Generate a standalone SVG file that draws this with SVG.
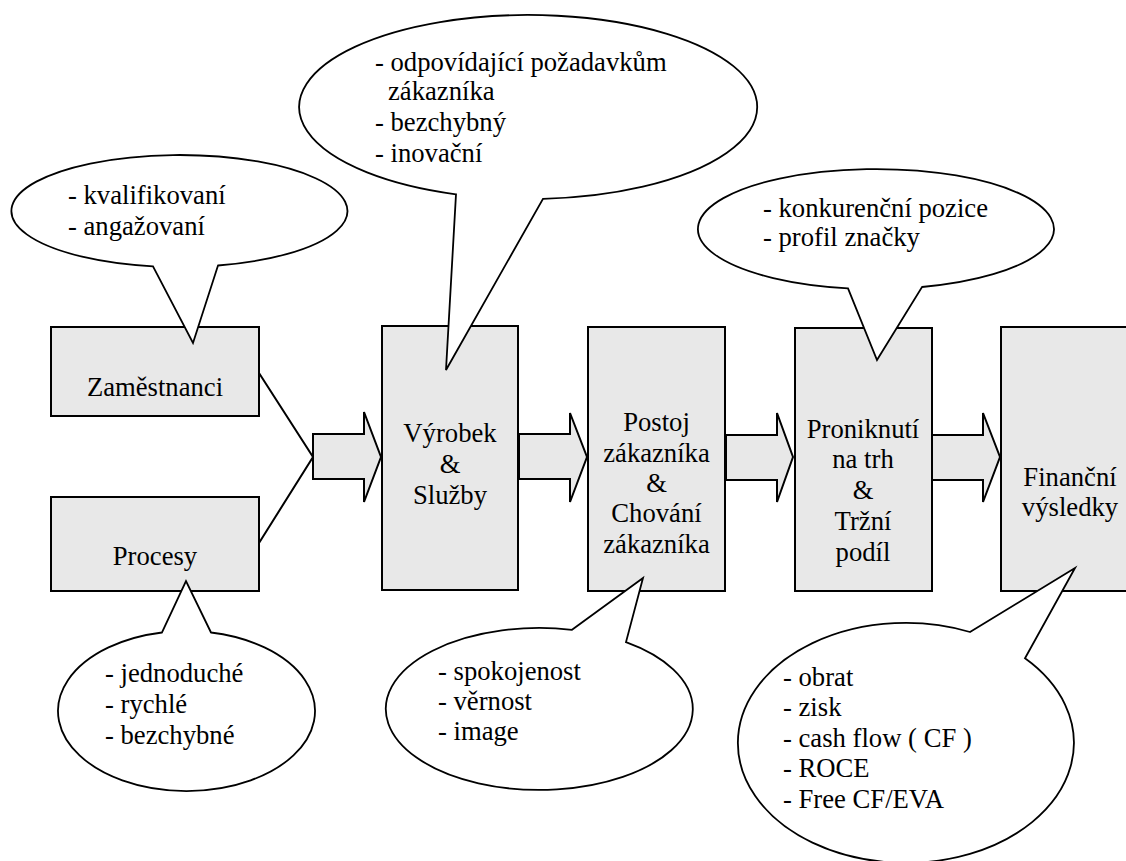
<svg xmlns="http://www.w3.org/2000/svg" width="1126" height="861" viewBox="0 0 1126 861">
<style>
.box{fill:#e8e8e8;stroke:#000;stroke-width:2}
.arr{fill:#e8e8e8;stroke:#000;stroke-width:2;stroke-linejoin:miter}
.ln{fill:none;stroke:#000;stroke-width:2}
.bub{fill:#fff;stroke:#000;stroke-width:1.8;stroke-linejoin:miter}
.t{font-family:'Liberation Serif','Tinos','Times New Roman','DejaVu Serif',serif;font-size:26.67px;fill:#000}
.c{text-anchor:middle}
</style>
<rect width="1126" height="861" fill="#fff"/>
<g id="connectors">
<polyline class="ln" points="259,373 313,457 259,543"/>
<polygon class="arr" points="313,434 364,434 364,412 381,457 364,502 364,479 313,479"/>
<polygon class="arr" points="519,434 570,434 570,413 587,457 570,502 570,479 519,479"/>
<polygon class="arr" points="726,435 777,435 777,413 793,457 777,502 777,480 726,480"/>
<polygon class="arr" points="932,435 983,435 983,413 1000,457 983,502 983,480 932,480"/>
</g>
<g class="t" font-family="Liberation Serif, Times New Roman, serif">
<g id="zamestnanci">
<rect class="box" x="51" y="327" width="208" height="89"/>
<text class="c" x="155" y="396">Zaměstnanci</text>
</g>
<g id="procesy">
<rect class="box" x="51" y="497" width="208" height="94"/>
<text class="c" x="155" y="565">Procesy</text>
</g>
<g id="vyrobek">
<rect class="box" x="382" y="326" width="136" height="264"/>
<text class="c" x="450" y="442">Výrobek</text>
<text class="c" x="450" y="473">&amp;</text>
<text class="c" x="450" y="504">Služby</text>
</g>
<g id="postoj">
<rect class="box" x="588" y="327" width="137" height="264"/>
<text class="c" x="656.5" y="431">Postoj</text>
<text class="c" x="656.5" y="462">zákazníka</text>
<text class="c" x="656.5" y="492">&amp;</text>
<text class="c" x="656.5" y="522">Chování</text>
<text class="c" x="656.5" y="553">zákazníka</text>
</g>
<g id="proniknuti">
<rect class="box" x="795" y="328" width="137" height="263"/>
<text class="c" x="863" y="438">Proniknutí</text>
<text class="c" x="863" y="468">na trh</text>
<text class="c" x="863" y="499">&amp;</text>
<text class="c" x="863" y="530">Tržní</text>
<text class="c" x="863" y="561">podíl</text>
</g>
<g id="financni">
<rect class="box" x="1001" y="327" width="140" height="264"/>
<text class="c" x="1070" y="486">Finanční</text>
<text class="c" x="1070" y="516">výsledky</text>
</g>
<g id="bubble-zamestnanci">
<path class="bub" d="M153 266.3 L193 343 L218 265.5 A168 56 0 1 0 153 266.3 Z"/>
<text x="68" y="204">- kvalifikovaní</text>
<text x="68" y="235">- angažovaní</text>
</g>
<g id="bubble-vyrobek">
<path class="bub" d="M456 194.3 L446 370 L543 198.8 A229 92 0 1 0 456 194.3 Z"/>
<text x="375" y="71">- odpovídající požadavkům</text>
<text x="388" y="100">zákazníka</text>
<text x="375" y="131">- bezchybný</text>
<text x="375" y="162">- inovační</text>
</g>
<g id="bubble-trh">
<path class="bub" d="M848 288.3 L877 360 L922 287 A178 60 0 1 0 848 288.3 Z"/>
<text x="763" y="217">- konkurenční pozice</text>
<text x="763" y="246">- profil značky</text>
</g>
<g id="bubble-procesy">
<path class="bub" d="M211 632.5 L186 581 L162 632.5 A128.5 80 0 1 0 211 632.5 Z"/>
<text x="105" y="682">- jednoduché</text>
<text x="105" y="713">- rychlé</text>
<text x="105" y="744">- bezchybné</text>
</g>
<g id="bubble-zakaznik">
<path class="bub" d="M572 629.8 L643 578 L626 642.1 A153.5 81 0 1 1 572 629.8 Z"/>
<text x="438" y="680">- spokojenost</text>
<text x="438" y="710">- věrnost</text>
<text x="438" y="740">- image</text>
</g>
<g id="bubble-financni">
<path class="bub" d="M970 632 L1075 568 L1025 658.3 A168 120 0 1 1 970 632 Z"/>
<text x="783" y="686">- obrat</text>
<text x="783" y="716">- zisk</text>
<text x="783" y="747">- cash flow ( CF )</text>
<text x="783" y="777">- ROCE</text>
<text x="783" y="808">- Free CF/EVA</text>
</g>
</g>
</svg>
